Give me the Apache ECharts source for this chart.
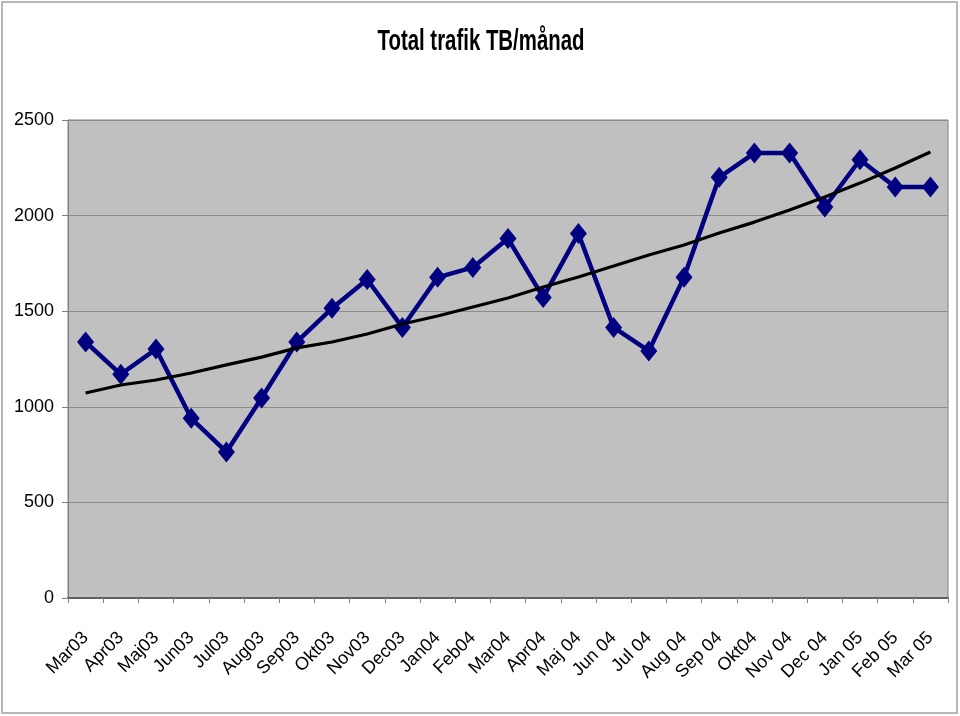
<!DOCTYPE html>
<html>
<head>
<meta charset="utf-8">
<style>
html,body{margin:0;padding:0;background:#fff;}
#chart{width:960px;height:716px;}
</style>
<script src="https://cdn.jsdelivr.net/npm/echarts@6/dist/echarts.min.js"></script>
</head>
<body>
<div id="chart"></div>
<script>
const categories = ['Mar03','Apr03','Maj03','Jun03','Jul03','Aug03','Sep03','Okt03','Nov03','Dec03','Jan04','Feb04','Mar04','Apr04','Maj 04','Jun 04','Jul 04','Aug 04','Sep 04','Okt04','Nov 04','Dec 04','Jan 05','Feb 05','Mar 05'];
const traffic = [1339,1170,1302,940,764,1046,1339,1515,1666,1415,1677,1729,1880,1572,1906,1415,1292,1677,2200,2327,2327,2045,2292,2150,2150];
const trend = [1072,1114,1140,1177,1219,1260,1308,1339,1381,1433,1475,1522,1569,1627,1679,1736,1794,1846,1909,1966,2029,2097,2170,2249,2333];
const yTicks = {min:0, max:2500, interval:500};
const titleText = 'Total trafik TB/månad';

const chart = echarts.init(document.getElementById('chart'), null, {renderer:'canvas'});
chart.setOption({
  animation:false,
  backgroundColor:'#ffffff',
  graphic:[
    {type:'rect', shape:{x:2,y:2,width:955,height:711},
     style:{fill:'none', stroke:'#b8b8b8', lineWidth:2}, silent:true, z:-1},
    {type:'text', x:481, y:27, scaleX:0.68, originX:0,
     style:{text:titleText, fontFamily:'Liberation Sans, Arial', fontWeight:'bold', fontSize:30, fill:'#000', align:'center', verticalAlign:'top'}}
  ],
  grid:{left:68, right:12, top:120, bottom:118, show:true, backgroundColor:'#c0c0c0', borderColor:'#808080', borderWidth:1},
  xAxis:{
    type:'category', data:categories, boundaryGap:true,
    axisLine:{lineStyle:{color:'#606060', width:2}},
    axisTick:{show:true, length:5, lineStyle:{color:'#808080'}},
    axisLabel:{rotate:45, margin:37, fontFamily:'Liberation Sans, Arial', fontSize:18, color:'#000', interval:0}
  },
  yAxis:{
    type:'value', min:yTicks.min, max:yTicks.max, interval:yTicks.interval,
    axisLine:{show:true, lineStyle:{color:'#808080', width:1}},
    axisTick:{show:true, length:6, lineStyle:{color:'#808080'}},
    splitLine:{show:true, lineStyle:{color:'#8c8c8c', width:1}},
    axisLabel:{margin:14, formatter:v => String(v), fontFamily:'Liberation Sans, Arial', fontSize:18, color:'#000'}
  },
  series:[
    {name:'Trafik', type:'line', data:traffic, symbol:'diamond', symbolSize:[17,21],
     lineStyle:{color:'#000080', width:4.5}, itemStyle:{color:'#000080'}, z:2},
    {name:'Trend', type:'line', data:trend, symbol:'none',
     lineStyle:{color:'#000000', width:3.2}, z:3}
  ]
});
</script>
</body>
</html>
